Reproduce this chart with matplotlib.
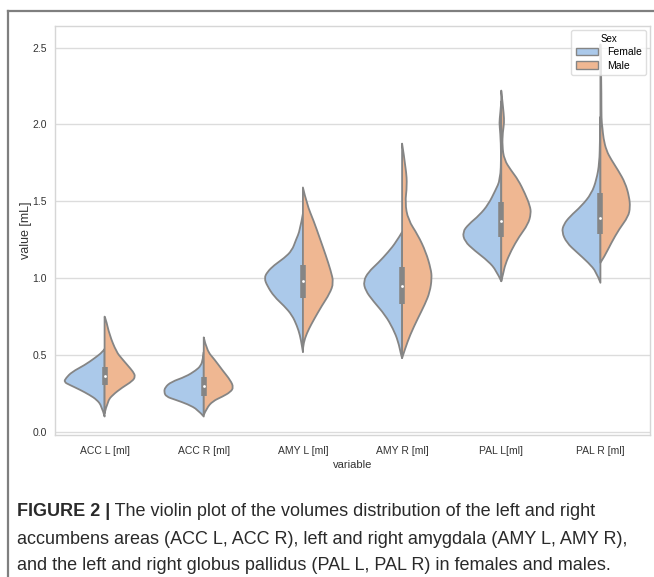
import numpy as np
import matplotlib
matplotlib.use("Agg")
import matplotlib.pyplot as plt
from matplotlib.patches import Patch, PathPatch
from matplotlib.path import Path
from matplotlib.lines import Line2D

# ------------------------------
# Datos: perfiles de densidad por región (valor en mL, semiancho en unidades de categoría)
# ------------------------------
regions = ["ACC L [ml]", "ACC R [ml]", "AMY L [ml]", "AMY R [ml]", "PAL L[ml]", "PAL R [ml]"]

acc_l_f_y = [0.10, 0.17, 0.21, 0.24, 0.275, 0.305, 0.325, 0.35, 0.39, 0.435, 0.48, 0.52, 0.54]
acc_l_f_w = [0.00, 0.03, 0.08, 0.15, 0.25, 0.35, 0.41, 0.39, 0.33, 0.20, 0.10, 0.02, 0.00]
acc_l_m_y = [0.12, 0.20, 0.24, 0.29, 0.33, 0.36, 0.39, 0.435, 0.48, 0.52, 0.63, 0.74, 0.75]
acc_l_m_w = [0.00, 0.03, 0.08, 0.18, 0.28, 0.31, 0.29, 0.23, 0.17, 0.12, 0.05, 0.01, 0.00]

acc_r_f_y = [0.10, 0.145, 0.18, 0.21, 0.23, 0.26, 0.29, 0.325, 0.36, 0.40, 0.43, 0.47, 0.52]
acc_r_f_w = [0.00, 0.06, 0.16, 0.29, 0.38, 0.40, 0.39, 0.33, 0.18, 0.08, 0.03, 0.01, 0.00]
acc_r_m_y = [0.11, 0.155, 0.20, 0.23, 0.26, 0.29, 0.335, 0.40, 0.47, 0.53, 0.615]
acc_r_m_w = [0.00, 0.03, 0.09, 0.19, 0.27, 0.30, 0.27, 0.19, 0.11, 0.03, 0.00]

amy_l_f_y = [0.52, 0.56, 0.63, 0.69, 0.76, 0.82, 0.88, 0.95, 1.00, 1.04, 1.085, 1.13, 1.18, 1.25, 1.31, 1.42]
amy_l_f_w = [0.00, 0.01, 0.03, 0.06, 0.11, 0.19, 0.29, 0.36, 0.39, 0.36, 0.29, 0.19, 0.11, 0.07, 0.03, 0.00]
amy_l_m_y = [0.52, 0.55, 0.61, 0.67, 0.73, 0.82, 0.90, 0.97, 1.05, 1.15, 1.26, 1.37, 1.48, 1.59]
amy_l_m_w = [0.00, 0.00, 0.02, 0.06, 0.11, 0.19, 0.27, 0.31, 0.28, 0.23, 0.17, 0.11, 0.04, 0.00]

amy_r_f_y = [0.48, 0.50, 0.59, 0.67, 0.76, 0.85, 0.92, 0.98, 1.04, 1.10, 1.17, 1.235, 1.30]
amy_r_f_w = [0.00, 0.01, 0.04, 0.09, 0.17, 0.29, 0.37, 0.39, 0.34, 0.24, 0.14, 0.06, 0.00]
amy_r_m_y = [0.48, 0.54, 0.63, 0.74, 0.83, 0.91, 1.00, 1.06, 1.17, 1.28, 1.38, 1.49, 1.60, 1.71, 1.875]
amy_r_m_w = [0.00, 0.03, 0.08, 0.16, 0.23, 0.28, 0.30, 0.29, 0.24, 0.16, 0.06, 0.03, 0.05, 0.04, 0.00]

pal_l_f_y = [0.98, 1.05, 1.11, 1.18, 1.24, 1.30, 1.35, 1.41, 1.48, 1.57, 1.64, 1.80, 1.95, 2.01, 2.07, 2.15]
pal_l_f_w = [0.00, 0.05, 0.13, 0.27, 0.37, 0.39, 0.33, 0.22, 0.13, 0.06, 0.01, 0.00, 0.01, 0.02, 0.01, 0.00]
pal_l_m_y = [0.98, 1.03, 1.09, 1.18, 1.27, 1.35, 1.42, 1.47, 1.55, 1.64, 1.70, 1.77, 1.86, 1.95, 2.01, 2.07, 2.16, 2.22]
pal_l_m_w = [0.00, 0.02, 0.04, 0.10, 0.18, 0.27, 0.30, 0.29, 0.24, 0.17, 0.10, 0.03, 0.01, 0.015, 0.03, 0.025, 0.01, 0.00]

pal_r_f_y = [0.97, 1.04, 1.10, 1.17, 1.23, 1.30, 1.35, 1.40, 1.47, 1.55, 1.64, 1.75, 1.90, 2.05]
pal_r_f_w = [0.00, 0.04, 0.12, 0.24, 0.34, 0.39, 0.37, 0.31, 0.19, 0.09, 0.04, 0.01, 0.005, 0.00]
pal_r_m_y = [1.10, 1.14, 1.23, 1.32, 1.40, 1.46, 1.53, 1.62, 1.70, 1.77, 1.83, 1.91, 1.98, 2.03, 2.20, 2.40, 2.52]
pal_r_m_w = [0.00, 0.04, 0.11, 0.19, 0.28, 0.30, 0.29, 0.25, 0.18, 0.11, 0.06, 0.03, 0.02, 0.01, 0.01, 0.005, 0.00]

# cuartiles y mediana (ambos sexos juntos)
q1 = [0.305, 0.235, 0.87, 0.835, 1.27, 1.285]
median = [0.365, 0.30, 0.98, 0.95, 1.37, 1.39]
q3 = [0.425, 0.355, 1.085, 1.07, 1.495, 1.555]

female = [(acc_l_f_y, acc_l_f_w), (acc_r_f_y, acc_r_f_w), (amy_l_f_y, amy_l_f_w),
          (amy_r_f_y, amy_r_f_w), (pal_l_f_y, pal_l_f_w), (pal_r_f_y, pal_r_f_w)]
male = [(acc_l_m_y, acc_l_m_w), (acc_r_m_y, acc_r_m_w), (amy_l_m_y, amy_l_m_w),
        (amy_r_m_y, amy_r_m_w), (pal_l_m_y, pal_l_m_w), (pal_r_m_y, pal_r_m_w)]

caption_bold = "FIGURE 2 |"
caption_lines = [
    " The violin plot of the volumes distribution of the left and right",
    "accumbens areas (ACC L, ACC R), left and right amygdala (AMY L, AMY R),",
    "and the left and right globus pallidus (PAL L, PAL R) in females and males.",
]


# ------------------------------
# Media violín con contorno suavizado (curvas cuadráticas de Bezier)
# ------------------------------
def half_violin(ax, pos, ys, ws, side, color, edge):
    pts = [(pos + side * w, y) for y, w in zip(ys, ws)]
    verts = [pts[0]]
    codes = [Path.MOVETO]
    for k in range(1, len(pts) - 1):
        mid = ((pts[k][0] + pts[k + 1][0]) / 2, (pts[k][1] + pts[k + 1][1]) / 2)
        if k == len(pts) - 2:
            mid = pts[-1]
        verts += [pts[k], mid]
        codes += [Path.CURVE3, Path.CURVE3]
    verts += [(pos, ys[-1]), (pos, ys[0]), pts[0]]
    codes += [Path.LINETO, Path.LINETO, Path.CLOSEPOLY]
    patch = PathPatch(Path(verts, codes), facecolor=color, edgecolor=edge,
                      linewidth=1.3, joinstyle="round", zorder=2)
    ax.add_patch(patch)


# ------------------------------
# Gráfico
# ------------------------------
c_female = "#abc9ea"
c_male = "#efb792"
edge = "#858585"

fig = plt.figure(figsize=(6.54, 5.77), dpi=100)
plt.rcParams["font.family"] = ["Liberation Sans", "DejaVu Sans"]
ax = fig.add_axes([0.0841, 0.2461, 0.9098, 0.7088])

for i in range(len(regions)):
    half_violin(ax, i, female[i][0], female[i][1], -1, c_female, edge)
    half_violin(ax, i, male[i][0], male[i][1], 1, c_male, edge)
    ax.plot([i, i], [q1[i], q3[i]], color=edge, linewidth=4, solid_capstyle="butt", zorder=3)
    ax.scatter([i], [median[i]], s=4, color="white", zorder=4, linewidths=0)

ax.set_xlim(-0.5, 5.5)
ax.set_ylim(-0.02, 2.64)
ax.set_xticks(range(len(regions)))
ax.set_xticklabels(regions)
ax.set_yticks([0.0, 0.5, 1.0, 1.5, 2.0, 2.5])
ax.set_yticklabels(["0.0", "0.5", "1.0", "1.5", "2.0", "2.5"])
ax.grid(axis="y", color="#dcdcdc", linewidth=1.0, zorder=0)
ax.set_axisbelow(True)
for s in ax.spines.values():
    s.set_color("#d6d6d6")
    s.set_linewidth(1.0)
ax.tick_params(length=0, labelsize=7.5, labelcolor="#333333")
ax.tick_params(axis="x", pad=8)
ax.tick_params(axis="y", pad=6)
ax.set_xlabel("variable", fontsize=8, color="#333333", labelpad=3)
ax.set_ylabel("value [mL]", fontsize=9, color="#333333", labelpad=0)

handles = [Patch(facecolor=c_female, edgecolor=edge, label="Female"),
           Patch(facecolor=c_male, edgecolor=edge, label="Male")]
leg = ax.legend(handles=handles, title="Sex", loc="upper right", fontsize=7.5,
                title_fontsize=7, frameon=True, borderaxespad=0.4, handlelength=2.2,
                labelspacing=0.3)
leg.get_frame().set_edgecolor("#d6d6d6")
leg.set_zorder(10)

# marco de la figura
fig.add_artist(Line2D([7.5 / 654, 7.5 / 654], [0, 1 - 10.5 / 577], color="#7f7f7f", linewidth=1.6))
fig.add_artist(Line2D([7.5 / 654, 1], [1 - 10.5 / 577, 1 - 10.5 / 577], color="#7f7f7f", linewidth=1.6))

# pie de figura
cap_size = 13
cap_color = "#2a2a2a"
t = fig.text(17 / 654, 1 - 512 / 577, caption_bold, fontsize=cap_size, fontweight="bold",
             color=cap_color, va="center")
fig.canvas.draw()
bb = t.get_window_extent()
fig.text(bb.x1 / 654, 1 - 512 / 577, caption_lines[0], fontsize=cap_size, color=cap_color, va="center")
fig.text(17 / 654, 1 - 540 / 577, caption_lines[1], fontsize=cap_size, color=cap_color, va="center")
fig.text(17 / 654, 1 - 566 / 577, caption_lines[2], fontsize=cap_size, color=cap_color, va="center")

fig.savefig("out.png", dpi=100)
